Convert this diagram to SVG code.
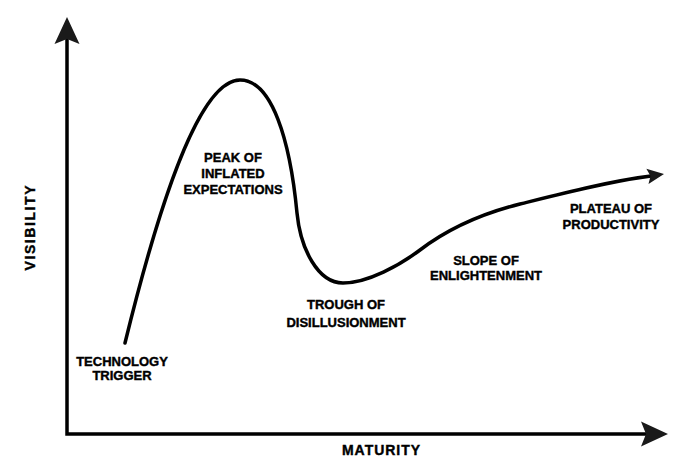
<svg xmlns="http://www.w3.org/2000/svg" width="686" height="474" viewBox="0 0 686 474">
<defs>
<style>
.ax{stroke:#000;stroke-width:3.5;fill:none}
.cv{stroke:#000;stroke-width:3.5;fill:none;stroke-linecap:round}
.ah{fill:#1a1a1a}
text{font-family:"Liberation Sans",Arial,sans-serif;font-weight:bold;font-size:13px;fill:#000;stroke:#000;stroke-width:0.4;text-anchor:middle}
.big{font-size:14px}
</style>
<path id="ah" d="M0,0 L-27,-12.5 L-22,0 L-27,12.5 Z"/>
</defs>
<rect width="686" height="474" fill="#fff"/>
<g id="connectors">
<path class="ax" d="M67,38 V434 H646"/>
<use href="#ah" class="ah" transform="translate(67,17) rotate(-90)"/>
<use href="#ah" class="ah" transform="translate(668,434)"/>
<path class="cv" d="M125,343 C160,200 200,80 240,80 C272,80 290,140 297,213 C300.5,249 318,283 343,283 C368,283 400,265 420,250 C445,231 480,214 520,204 C560,194 610,181 651,176"/>
<use href="#ah" class="ah" transform="translate(664,174) rotate(-8) scale(0.62)"/>
</g>
<g id="axis-visibility"><text class="big" transform="translate(35,228) rotate(-90)" textLength="85" lengthAdjust="spacing">VISIBILITY</text></g>
<g id="axis-maturity"><text class="big" x="381" y="455" textLength="78" lengthAdjust="spacing">MATURITY</text></g>
<g id="technology-trigger"><text x="122" y="366">TECHNOLOGY</text><text x="122" y="380">TRIGGER</text></g>
<g id="peak"><text x="233" y="162">PEAK OF</text><text x="233" y="178">INFLATED</text><text x="233" y="194">EXPECTATIONS</text></g>
<g id="trough"><text x="346" y="309">TROUGH OF</text><text x="346" y="327">DISILLUSIONMENT</text></g>
<g id="slope"><text x="486" y="265">SLOPE OF</text><text x="486" y="280">ENLIGHTENMENT</text></g>
<g id="plateau"><text x="611" y="213">PLATEAU OF</text><text x="611" y="229">PRODUCTIVITY</text></g>
</svg>
